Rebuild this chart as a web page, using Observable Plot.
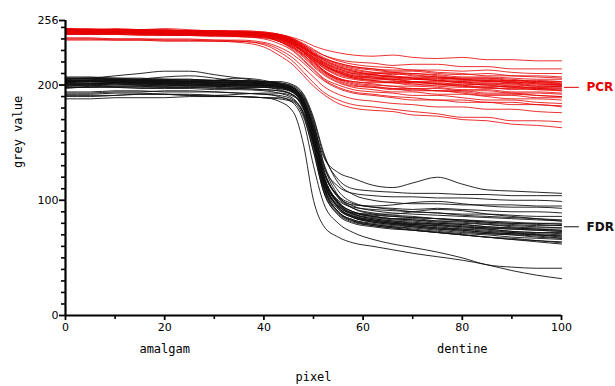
<!DOCTYPE html>
<html>
<head>
<meta charset="utf-8">
<script src="https://cdn.jsdelivr.net/npm/d3@7"></script>
<script src="https://cdn.jsdelivr.net/npm/@observablehq/plot@0.6"></script>
<style>
  html, body { margin: 0; padding: 0; background: #fff; }
</style>
</head>
<body>
<div id="chart"></div>
<script>
// pixel positions sampled along each profile
const xs = [0,5,10,15,20,25,30,35,40,43,46,48,50,52,55,58,62,66,70,75,80,85,90,95,100];

// PCR profiles (grey values)
const pcr = [
  [248,248,249,248,247,247,247,246,245,244,241,238,234,231,228,226,225,226,224,223,224,222,222,221,221],
  [247,246,247,247,246,246,245,245,244,243,239,235,230,226,222,220,219,217,218,218,216,216,214,214,214],
  [249,249,248,248,249,248,247,247,246,244,240,236,231,226,221,218,216,215,213,213,212,213,211,210,210],
  [246,246,246,245,245,245,245,244,243,241,236,232,227,223,219,216,214,213,213,211,210,208,208,208,207],
  [248,248,248,247,247,247,247,246,245,243,238,233,227,221,216,213,211,211,210,209,207,207,206,205,205],
  [247,247,246,246,246,246,246,245,244,242,237,232,226,220,215,212,210,210,208,207,206,206,204,204,203],
  [245,245,245,245,244,244,243,243,242,240,235,230,224,219,214,211,209,207,207,206,205,203,203,202,202],
  [249,248,248,248,248,247,247,247,246,244,239,233,226,219,213,210,209,207,206,206,205,204,204,202,201],
  [246,246,246,246,246,245,245,244,243,240,234,229,222,217,212,209,207,205,205,204,202,202,201,201,200],
  [247,247,247,247,247,246,246,246,245,242,237,231,224,218,212,208,206,205,203,203,202,200,200,199,199],
  [248,248,247,247,247,247,246,246,245,243,238,232,225,218,211,207,205,205,203,201,201,200,198,198,198],
  [245,245,245,244,244,244,243,243,242,239,233,227,221,215,209,206,204,202,202,201,199,199,198,196,196],
  [247,247,247,247,246,246,246,245,244,241,235,229,222,215,208,205,203,202,200,200,199,197,197,196,195],
  [246,246,246,246,245,245,245,244,243,240,234,228,220,213,206,203,201,199,199,198,196,196,194,194,193],
  [248,248,248,247,247,247,246,246,245,242,236,229,221,213,206,202,200,199,197,197,195,195,193,193,192],
  [244,244,244,244,243,243,243,242,241,238,232,226,219,212,205,201,199,197,197,195,195,193,193,191,190],
  [247,247,246,246,246,246,245,245,244,241,235,228,220,212,204,200,198,197,195,195,193,191,191,189,189],
  [245,245,245,245,244,244,244,243,242,238,231,224,216,209,202,198,196,194,194,192,192,190,188,188,187],
  [246,246,246,245,245,245,244,244,242,238,230,222,214,206,200,196,194,193,191,191,189,187,187,185,184],
  [244,244,244,243,243,243,242,242,240,236,229,221,213,205,198,194,192,190,189,187,187,185,185,183,182],
  [241,241,240,240,240,240,239,239,237,233,226,219,211,204,197,193,191,189,187,187,185,185,183,183,181],
  [240,240,240,240,239,239,239,238,236,231,223,215,207,199,192,188,186,184,183,181,181,179,179,177,176],
  [240,240,239,239,239,239,238,238,235,229,220,211,202,194,187,183,181,179,177,175,172,172,169,169,168],
  [239,239,239,239,238,238,238,237,233,226,217,208,199,192,184,180,178,177,174,173,170,169,166,165,163],
  [248,247,247,247,247,246,246,246,245,243,239,234,228,222,216,212,209,208,206,204,203,204,202,203,201],
  [246,246,246,245,245,245,244,244,243,241,236,230,223,216,210,206,204,203,203,201,200,201,199,198,199],
  [247,247,247,247,246,246,246,245,244,242,237,231,224,217,211,207,206,204,202,202,200,198,199,197,197],
  [249,248,248,248,248,247,247,246,245,243,239,234,228,223,218,215,213,211,209,207,205,205,203,201,200],
  [245,245,245,245,245,244,244,243,242,239,233,226,218,211,205,203,202,202,201,199,198,198,196,197,195],
  [247,247,246,246,246,246,245,245,244,242,238,233,227,222,217,214,211,209,210,208,206,206,205,203,203],
  [248,248,248,248,247,247,247,246,245,244,240,235,229,224,219,216,214,212,212,210,209,210,208,207,206],
  [246,246,246,246,245,245,245,244,243,240,235,229,223,217,211,208,207,206,205,204,203,201,201,199,199],
  [244,244,244,244,244,243,243,242,241,238,232,225,217,210,203,199,198,196,196,195,194,192,192,191,190],
  [247,247,247,246,246,246,246,245,244,242,237,232,226,220,214,210,208,207,206,205,204,203,202,200,200]
];

// FDR profiles (grey values)
const fdr = [
  [203,204,205,204,203,203,202,202,201,200,196,186,165,138,124,119,113,111,115,120,114,109,108,107,106],
  [205,206,205,204,204,203,203,202,202,201,198,190,170,140,118,110,108,107,106,106,105,105,104,104,104],
  [200,201,201,200,200,199,199,198,198,197,194,185,162,130,112,106,104,103,103,102,102,101,100,100,99],
  [207,207,206,206,205,205,204,204,203,203,200,192,172,142,115,105,100,98,97,97,96,96,96,95,95],
  [202,203,203,202,202,201,201,200,200,199,196,186,160,125,104,97,94,93,92,93,92,91,90,90,89],
  [198,198,199,199,198,198,197,197,196,195,191,180,152,118,100,94,92,91,90,89,88,88,87,86,86],
  [204,204,204,203,203,203,202,202,201,200,197,188,164,128,103,95,91,89,88,87,86,85,84,83,82],
  [206,205,205,205,204,204,204,203,203,202,199,191,168,132,104,93,88,86,85,84,83,82,81,80,80],
  [201,201,202,202,201,201,200,200,199,198,194,183,156,120,98,90,87,86,85,84,82,80,79,78,78],
  [203,203,203,202,202,202,201,201,200,199,195,185,158,122,99,90,86,84,83,81,80,79,77,76,76],
  [199,200,200,200,199,199,199,198,198,197,193,181,152,116,95,88,85,83,82,80,79,77,76,75,74],
  [205,205,204,204,204,203,203,203,202,201,197,187,160,123,98,88,84,82,80,79,78,76,75,74,73],
  [202,202,202,201,201,201,200,200,199,198,194,182,153,117,94,86,82,80,79,78,76,75,73,72,72],
  [200,200,201,201,200,200,200,199,199,198,193,180,150,114,92,85,81,79,78,76,75,73,72,71,70],
  [204,204,203,203,203,202,202,202,201,199,195,184,156,118,94,86,82,80,78,76,74,72,71,70,69],
  [206,206,206,205,205,205,204,204,203,201,197,186,158,120,94,85,81,79,77,75,73,71,70,68,67],
  [201,201,201,200,200,200,199,199,198,196,191,178,148,112,90,83,79,77,75,73,71,70,68,67,66],
  [203,203,203,203,202,202,202,201,200,199,194,181,150,113,90,82,78,76,74,72,70,68,67,65,64],
  [198,198,198,197,197,197,196,196,195,193,188,174,143,108,88,81,78,76,74,72,70,68,66,64,62],
  [193,193,194,194,195,195,194,193,192,191,187,176,148,112,90,83,80,78,77,75,74,72,71,70,68],
  [190,190,191,192,192,191,190,190,189,189,186,175,146,110,89,82,79,77,76,74,72,71,70,69,67],
  [188,188,189,189,189,190,190,190,189,188,185,172,142,108,87,80,77,75,74,72,70,68,66,65,63],
  [194,194,195,195,194,194,194,193,192,190,184,168,130,98,80,72,66,62,59,55,50,44,42,41,41],
  [191,191,191,192,192,192,191,190,189,186,176,148,100,78,68,63,60,57,54,51,48,44,39,35,32],
  [205,206,208,210,212,212,209,206,203,201,197,187,162,126,102,93,89,87,86,84,83,81,80,79,78],
  [197,199,202,205,207,208,206,203,201,199,195,184,157,121,98,90,86,84,83,82,82,81,80,80,79],
  [203,203,202,202,201,202,204,206,204,201,196,185,158,121,97,89,86,84,84,82,81,79,78,77,76],
  [200,200,199,199,199,200,200,200,200,199,195,185,160,126,103,96,95,96,98,99,97,95,94,94,93],
  [206,206,205,205,205,204,204,204,203,202,198,189,166,133,108,98,94,92,90,89,87,86,85,84,83],
  [201,201,202,201,201,200,200,200,200,199,195,184,157,121,97,88,84,82,81,79,77,76,75,74,73],
  [204,204,204,204,203,203,202,202,202,200,196,185,158,121,96,87,83,81,79,78,77,75,73,72,71],
  [192,192,193,193,192,191,191,192,193,193,190,180,153,117,94,86,83,81,80,80,79,77,76,75,74],
  [202,203,203,202,202,202,201,201,200,199,194,182,153,116,93,85,82,80,79,77,75,74,72,70,69],
  [199,199,198,198,198,198,198,197,196,195,191,180,152,116,95,89,88,88,90,92,91,88,86,84,82]
];

const seriesNames = ["PCR", "FDR"];
const seriesColors = ["#e60000", "#111111"];
const labelValues = [198, 77];

const yMajor = [0, 100, 200, 256];
const yMinor = [10,20,30,40,50,60,70,80,90,110,120,130,140,150,160,170,180,190,210,220,230,240,250];
const xMajor = [0, 20, 40, 60, 80, 100];
const xMinor = [10, 30, 50, 70, 90];

const xAxisTitle = "pixel";
const yAxisTitle = "grey value";
const regionNames = ["amalgam", "dentine"];
const regionX = [20, 80];

// build long tables
const rows = [];
[pcr, fdr].forEach((group, g) => {
  group.forEach((vals, i) => {
    vals.forEach((v, j) => rows.push({series: seriesNames[g], id: seriesNames[g] + i, x: xs[j], v}));
  });
});
const fdrRows = rows.filter(d => d.series === "FDR");
const pcrRows = rows.filter(d => d.series === "PCR");
const labels = seriesNames.map((s, i) => ({name: s, y: labelValues[i], color: seriesColors[i]}));
const regions = regionNames.map((t, i) => ({t, x: regionX[i]}));

const mono = "'DejaVu Sans Mono', monospace";

const chart = Plot.plot({
  width: 615,
  height: 386,
  marginLeft: 65,
  marginRight: 54,
  marginTop: 20,
  marginBottom: 71,
  x: {domain: [0, 100]},
  y: {domain: [0, 256]},
  style: {fontFamily: "'DejaVu Sans', sans-serif", fontSize: "11px", color: "#000", background: "#fff"},
  marks: [
    Plot.line(fdrRows, {x: "x", y: "v", z: "id", stroke: seriesColors[1], strokeWidth: 0.9, curve: "monotone-x"}),
    Plot.line(pcrRows, {x: "x", y: "v", z: "id", stroke: seriesColors[0], strokeWidth: 0.9, strokeOpacity: 0.9, curve: "monotone-x"}),
    Plot.axisY(yMinor, {tickSize: 4, tickFormat: () => "", label: null, strokeWidth: 1.6}),
    Plot.axisY(yMajor, {tickSize: 6, tickPadding: 1, label: null, strokeWidth: 1.8, tickFormat: d => String(d)}),
    Plot.axisX(xMinor, {tickSize: 4, tickFormat: () => "", label: null, strokeWidth: 1.6}),
    Plot.axisX(xMajor, {tickSize: 5, tickPadding: 3, label: null, strokeWidth: 1.8, tickFormat: d => String(d)}),
    Plot.ruleX([0], {strokeWidth: 2.2}),
    Plot.ruleY([0], {strokeWidth: 2.2}),
    Plot.ruleY(labels, {y: "y", x1: () => 100.6, x2: () => 103.6, stroke: "color", strokeWidth: 1}),
    Plot.text(labels, {x: () => 100, y: "y", text: "name", fill: "color", dx: 25, textAnchor: "start", fontWeight: "bold", fontSize: 12}),
    Plot.text(regions, {x: "x", text: "t", frameAnchor: "bottom", dy: 37, fontFamily: mono, fontSize: 12}),
    Plot.text([xAxisTitle], {frameAnchor: "bottom", dy: 65, fontFamily: mono, fontSize: 12}),
    Plot.text([yAxisTitle], {frameAnchor: "left", dx: -47, rotate: -90, fontFamily: mono, fontSize: 12})
  ]
});
document.getElementById("chart").appendChild(chart);
</script>
</body>
</html>
